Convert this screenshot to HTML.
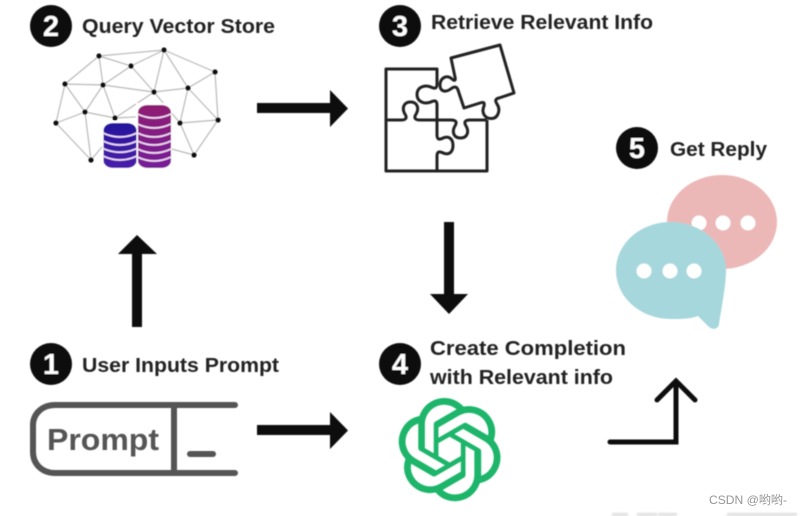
<!DOCTYPE html>
<html lang="en">
<head>
<meta charset="utf-8">
<title>Diagram</title>
<style>
html,body{margin:0;padding:0;background:#fff;width:801px;height:516px;overflow:hidden}
svg{display:block}
.t{font-family:"Liberation Sans",sans-serif;font-weight:700;font-size:20px;fill:#222}
.n{font-family:"Liberation Sans",sans-serif;font-weight:700;font-size:29px;fill:#fff;text-anchor:middle}
</style>
</head>
<body>
<svg width="801" height="516" viewBox="0 0 801 516" xmlns="http://www.w3.org/2000/svg">
<defs>
<filter id="b" x="-5%" y="-5%" width="110%" height="110%"><feGaussianBlur stdDeviation="0.5"/></filter>
<filter id="b2" x="-5%" y="-50%" width="110%" height="200%"><feGaussianBlur stdDeviation="1"/></filter>
<linearGradient id="gb" x1="0" y1="0" x2="0" y2="1"><stop offset="0" stop-color="#24189c"/><stop offset="1" stop-color="#4a1cab"/></linearGradient>
<linearGradient id="gp" x1="0" y1="0" x2="0" y2="1"><stop offset="0" stop-color="#8f1a72"/><stop offset="1" stop-color="#771e9a"/></linearGradient>
</defs>
<rect width="801" height="516" fill="#fff"/>
<g filter="url(#b)">
<!-- badges -->
<circle cx="51" cy="26" r="21" fill="#0a0a0a"/><text class="n" x="51" y="36">2</text>
<circle cx="400" cy="26" r="21" fill="#0a0a0a"/><text class="n" x="400" y="36">3</text>
<circle cx="637" cy="148" r="21" fill="#0a0a0a"/><text class="n" x="637" y="158">5</text>
<circle cx="51" cy="364" r="21" fill="#0a0a0a"/><text class="n" x="51" y="374">1</text>
<circle cx="400" cy="364" r="21" fill="#0a0a0a"/><text class="n" x="400" y="374">4</text>

<!-- labels -->
<text class="t" x="82" y="33" textLength="193" lengthAdjust="spacingAndGlyphs">Query Vector Store</text>
<text class="t" x="431" y="29" textLength="222" lengthAdjust="spacingAndGlyphs">Retrieve Relevant Info</text>
<text class="t" x="670" y="156" textLength="97" lengthAdjust="spacingAndGlyphs">Get Reply</text>
<text class="t" x="82" y="372" textLength="197" lengthAdjust="spacingAndGlyphs">User Inputs Prompt</text>
<text class="t" x="430" y="355" textLength="196" lengthAdjust="spacingAndGlyphs">Create Completion</text>
<text class="t" x="430" y="384" textLength="183" lengthAdjust="spacingAndGlyphs">with Relevant info</text>

<!-- network -->
<g stroke="#b9b9b9" stroke-width="1.2" fill="none">
<path d="M99 56L164 50M99 56L131 66M131 66L164 50M164 50L215 72M164 50L154 92M164 50L188 88M131 66L154 92M131 66L103 85M99 56L103 85M99 56L65 84M65 84L103 85M103 85L154 92M154 92L188 88M188 88L215 72M188 88L218 120M215 72L218 120M188 88L180 123M180 123L218 120M65 84L85 112M65 84L56 123M85 112L103 85M103 85L115 118M85 112L115 118M85 112L56 123M85 112L91 160M56 123L91 160M154 92L115 118M154 92L180 123M180 123L194 155M218 120L194 155M194 155L168 148M91 160L112 135M115 118L154 116"/>
</g>
<g fill="#111">
<circle cx="99" cy="56" r="2.600"/><circle cx="164" cy="50" r="2.600"/><circle cx="131" cy="66" r="2.600"/><circle cx="215" cy="72" r="2.600"/><circle cx="65" cy="84" r="2.600"/><circle cx="103" cy="85" r="2.600"/><circle cx="154" cy="92" r="2.600"/><circle cx="188" cy="88" r="2.600"/><circle cx="85" cy="112" r="2.600"/><circle cx="115" cy="118" r="2.600"/><circle cx="56" cy="123" r="2.600"/><circle cx="180" cy="123" r="2.600"/><circle cx="218" cy="120" r="2.600"/><circle cx="91" cy="160" r="2.600"/><circle cx="194" cy="155" r="2.600"/>
</g>

<!-- coins -->
<rect x="102" y="121" width="36" height="49" fill="#fff"/>
<rect x="136" y="103" width="36" height="67" fill="#fff"/>
<rect x="103.500" y="123" width="33" height="45" rx="10" ry="7" fill="url(#gb)"/>
<rect x="138" y="105" width="33" height="63" rx="10" ry="7" fill="url(#gp)"/>
<g fill="none" stroke="#f1dcf4" stroke-width="1.700">
<path d="M103 133Q120 141 137 133M103 141Q120 149 137 141M103 148.500Q120 156 137 148.500M103 156Q120 164 137 156"/>
<path d="M137.500 114Q154 122 171 114M137.500 124Q154 132 171 124M137.500 133Q154 141 171 133M137.500 141Q154 149 171 141M137.500 149Q154 157 171 149M137.500 157Q154 165 171 157"/>
</g>

<!-- arrows -->
<path d="M257 103H330V90L348 108.500L330 127V113H257Z" fill="#0a0a0a"/>
<path d="M257 425H330V412L348 430.500L330 449V435H257Z" fill="#0a0a0a"/>
<path d="M132 327V254H118L137 235L157 254H142V327Z" fill="#0a0a0a"/>
<path d="M444 222V294H430L449 314L468 294H454V222Z" fill="#0a0a0a"/>
<path d="M610 442H676V381M657 400L676 381L695 400" fill="none" stroke="#0a0a0a" stroke-width="5" stroke-linecap="round" stroke-linejoin="miter"/>

<!-- puzzle -->
<g fill="none" stroke="#222" stroke-width="3" stroke-linejoin="round">
<path d="M437 84V69H386V171H487V120"/>
<path d="M386 120H401C406 120 407 118 405.500 115C401 108 404 102 410.500 102C417 102 420 108 415.500 115C414 118 415 120 420 120H451C456 120 457 122 455.500 125C451 132 454 138 460.500 138C467 138 470 132 465.500 125C464 122 465 120 470 120H487"/>
<path d="M437 84C437 88 435 89 432 87.500C425 84 417 87 417 94.500C417 102 425 105 432 101.500C435 100 437 101 437 105V135C437 139 439 140 442 138.500C449 135 453 139 453 145.500C453 152 449 156 442 152.500C439 151 437 152 437 156V171"/>
<path d="M451 58L500 45L514 93L499 98C495 99 495 101 497 104C501 110 498 118 492 118.500C485 119 481 113 484 106C485 102 483 102 480 103L464 108L458 90C457 87 455 86 452 88C446 93 440 92 440 85C440 78 447 74 452 79C454 81 456 81 455 77Z"/>
</g>

<!-- speech bubbles -->
<ellipse cx="722" cy="222" rx="55" ry="47" fill="#ecb7b7"/>
<circle cx="699" cy="223" r="7.500" fill="#fff"/><circle cx="723" cy="223" r="7.500" fill="#fff"/><circle cx="748" cy="223" r="7.500" fill="#fff"/>
<path d="M671 222C701 222 726 244 726 270C726 285 722 305 719 324C718 330 712 330 708 326L698 316C690 319 681 319 671 319C640 319 616 297 616 270C616 244 640 222 671 222Z" fill="#a6d7dc"/>
<circle cx="644" cy="271" r="7.500" fill="#fff"/><circle cx="670" cy="271" r="7.500" fill="#fff"/><circle cx="694" cy="271" r="7.500" fill="#fff"/>

<!-- prompt box -->
<path d="M235 405H55C42 405 33 414 33 425V452C33 464 42 473 55 473H235" fill="none" stroke="#555" stroke-width="6" stroke-linecap="round"/>
<path d="M174 405V473" stroke="#555" stroke-width="6"/>
<path d="M190 454H213" stroke="#555" stroke-width="6" stroke-linecap="round"/>
<text x="47" y="450" font-family="'Liberation Sans',sans-serif" font-weight="700" font-size="31" fill="#555" textLength="112" lengthAdjust="spacingAndGlyphs">Prompt</text>

<!-- logo -->
<g transform="translate(398 398) scale(4.3)">
<path fill="#1fb56a" d="M22.2819 9.8211a5.9847 5.9847 0 0 0-.5157-4.9108 6.0462 6.0462 0 0 0-6.5098-2.9A6.0651 6.0651 0 0 0 4.9807 4.1818a5.9847 5.9847 0 0 0-3.9977 2.9 6.0462 6.0462 0 0 0 .7427 7.0966 5.98 5.98 0 0 0 .511 4.9107 6.051 6.051 0 0 0 6.5146 2.9001A5.9847 5.9847 0 0 0 13.2599 24a6.0557 6.0557 0 0 0 5.7718-4.2058 5.9894 5.9894 0 0 0 3.9977-2.9001 6.0557 6.0557 0 0 0-.7475-7.0729zm-9.022 12.6081a4.4755 4.4755 0 0 1-2.8764-1.0408l.1419-.0804 4.7783-2.7582a.7948.7948 0 0 0 .3927-.6813v-6.7369l2.02 1.1686a.071.071 0 0 1 .038.052v5.5826a4.504 4.504 0 0 1-4.4945 4.4944zm-9.6607-4.1254a4.4708 4.4708 0 0 1-.5346-3.0137l.142.0852 4.783 2.7582a.7712.7712 0 0 0 .7806 0l5.8428-3.3685v2.3324a.0804.0804 0 0 1-.0332.0615L9.74 19.9502a4.4992 4.4992 0 0 1-6.1408-1.6464zM2.3408 7.8956a4.485 4.485 0 0 1 2.3655-1.9728V11.6a.7664.7664 0 0 0 .3879.6765l5.8144 3.3543-2.0201 1.1685a.0757.0757 0 0 1-.071 0l-4.8303-2.7865A4.504 4.504 0 0 1 2.3408 7.872zm16.5963 3.8558L13.1038 8.364 15.1192 7.2a.0757.0757 0 0 1 .071 0l4.8303 2.7913a4.4944 4.4944 0 0 1-.6765 8.1042v-5.6772a.79.79 0 0 0-.407-.667zm2.0107-3.0231l-.142-.0852-4.7735-2.7818a.7759.7759 0 0 0-.7854 0L9.409 9.2297V6.8974a.0662.0662 0 0 1 .0284-.0615l4.8303-2.7866a4.4992 4.4992 0 0 1 6.6802 4.66zM8.3065 12.863l-2.02-1.1638a.0804.0804 0 0 1-.038-.0567V6.0742a4.4992 4.4992 0 0 1 7.3757-3.4537l-.142.0805L8.704 5.459a.7948.7948 0 0 0-.3927.6813zm1.0976-2.3654l2.602-1.4998 2.6069 1.4998v2.9994l-2.5974 1.4997-2.6067-1.4997Z"/>
</g>
</g>

<!-- faint bottom strip -->
<g filter="url(#b2)" fill="#dedede">
<rect x="612" y="513" width="16" height="3"/>
<rect x="637" y="513" width="20" height="3"/>
<rect x="658" y="513" width="19" height="3"/>
<rect x="727" y="513" width="70" height="3"/>
</g>
<!-- watermark -->
<text x="709" y="504" font-family="'Liberation Sans','Noto Sans CJK SC',sans-serif" font-size="12" fill="#959595" textLength="78" lengthAdjust="spacingAndGlyphs">CSDN @哟哟-</text>
</svg>
</body>
</html>
